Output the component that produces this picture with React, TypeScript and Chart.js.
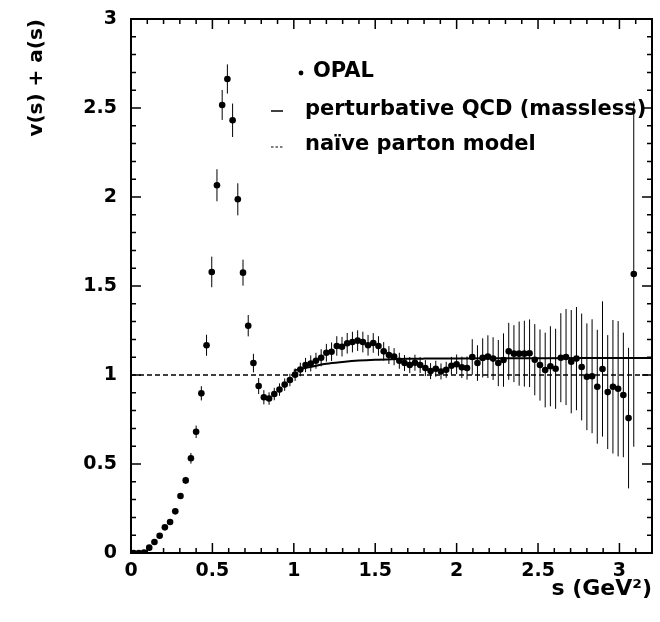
import React, { useEffect, useRef } from 'react';
import { Chart, registerables } from 'chart.js';

Chart.register(...registerables);

// ---- data ----
const S_VALUES = [
  0.016, 0.048, 0.080, 0.112, 0.144, 0.176, 0.208, 0.240, 0.272, 0.304,
  0.336, 0.368, 0.400, 0.432, 0.464, 0.496, 0.528, 0.560, 0.592, 0.624,
  0.656, 0.688, 0.720, 0.752, 0.784, 0.816, 0.848, 0.880, 0.912, 0.944,
  0.976, 1.008, 1.040, 1.072, 1.104, 1.136, 1.168, 1.200, 1.232, 1.264,
  1.296, 1.328, 1.360, 1.392, 1.424, 1.456, 1.488, 1.520, 1.552, 1.584,
  1.616, 1.648, 1.680, 1.712, 1.744, 1.776, 1.808, 1.840, 1.872, 1.904,
  1.936, 1.968, 2.000, 2.032, 2.064, 2.096, 2.128, 2.160, 2.192, 2.224,
  2.256, 2.288, 2.320, 2.352, 2.384, 2.416, 2.448, 2.480, 2.512, 2.544,
  2.576, 2.608, 2.640, 2.672, 2.704, 2.736, 2.768, 2.800, 2.832, 2.864,
  2.896, 2.928, 2.960, 2.992, 3.024, 3.056, 3.088,
];
const V_VALUES = [
  0.000, 0.000, 0.003, 0.030, 0.062, 0.097, 0.144, 0.174, 0.234, 0.320,
  0.408, 0.532, 0.681, 0.897, 1.167, 1.579, 2.066, 2.517, 2.663, 2.431,
  1.987, 1.575, 1.277, 1.067, 0.938, 0.875, 0.868, 0.893, 0.918, 0.946,
  0.972, 1.002, 1.031, 1.056, 1.065, 1.080, 1.097, 1.125, 1.131, 1.163,
  1.159, 1.178, 1.185, 1.193, 1.185, 1.167, 1.180, 1.163, 1.133, 1.112,
  1.103, 1.080, 1.067, 1.056, 1.069, 1.056, 1.039, 1.022, 1.035, 1.020,
  1.029, 1.052, 1.060, 1.043, 1.039, 1.101, 1.067, 1.096, 1.103, 1.092,
  1.067, 1.084, 1.133, 1.120, 1.120, 1.120, 1.122, 1.086, 1.056, 1.028,
  1.049, 1.035, 1.097, 1.101, 1.075, 1.092, 1.045, 0.990, 0.993, 0.934,
  1.034, 0.904, 0.934, 0.923, 0.888, 0.758, 1.567,
];
const V_ERRORS = [
  0.002, 0.002, 0.004, 0.008, 0.008, 0.010, 0.010, 0.012, 0.014, 0.016,
  0.020, 0.030, 0.035, 0.040, 0.059, 0.086, 0.090, 0.084, 0.082, 0.094,
  0.090, 0.073, 0.060, 0.052, 0.045, 0.040, 0.035, 0.035, 0.035, 0.035,
  0.035, 0.035, 0.038, 0.040, 0.045, 0.045, 0.048, 0.050, 0.052, 0.055,
  0.055, 0.058, 0.058, 0.058, 0.058, 0.058, 0.055, 0.055, 0.052, 0.050,
  0.048, 0.045, 0.045, 0.045, 0.045, 0.045, 0.045, 0.045, 0.045, 0.045,
  0.045, 0.050, 0.055, 0.060, 0.065, 0.100, 0.100, 0.110, 0.120, 0.120,
  0.130, 0.150, 0.160, 0.160, 0.180, 0.185, 0.190, 0.200, 0.200, 0.210,
  0.225, 0.225, 0.250, 0.270, 0.290, 0.290, 0.300, 0.300, 0.320, 0.320,
  0.380, 0.320, 0.375, 0.380, 0.350, 0.395, 0.970,
];

const QCD_S = [1.0, 1.05, 1.1, 1.15, 1.2, 1.3, 1.4, 1.5, 1.6, 1.7, 1.8, 2.0, 2.4, 2.8, 3.2];
const QCD_V = [1.025, 1.036, 1.045, 1.055, 1.063, 1.073, 1.081, 1.086, 1.089, 1.091, 1.092, 1.093, 1.094, 1.095, 1.095];

const NAIVE_S = [0, 3.2];
const NAIVE_V = [1, 1];

const X_TICKS = [0, 0.5, 1, 1.5, 2, 2.5, 3];
const Y_TICKS = [0, 0.5, 1, 1.5, 2, 2.5, 3];
const X_MIN = 0;
const X_MAX = 3.2;
const Y_MIN = 0;
const Y_MAX = 3;

const LEGEND_LABELS = ['OPAL', 'perturbative QCD (massless)', 'naïve parton model'];
const X_TITLE = 's (GeV²)';
const Y_TITLE = 'v(s) + a(s)';

const FAMILY = '"DejaVu Sans", "Liberation Sans", sans-serif';

const framePlugin = {
  id: 'rootFrame',
  beforeDatasetsDraw(chart: any) {
    const { ctx, chartArea } = chart;
    const xs = chart.scales.x;
    const ys = chart.scales.y;
    ctx.save();
    ctx.beginPath();
    ctx.rect(chartArea.left, chartArea.top, chartArea.right - chartArea.left, chartArea.bottom - chartArea.top);
    ctx.clip();
    ctx.strokeStyle = '#000';
    ctx.lineWidth = 1;
    for (let i = 0; i < S_VALUES.length; i++) {
      const px = xs.getPixelForValue(S_VALUES[i]);
      const y1 = ys.getPixelForValue(V_VALUES[i] - V_ERRORS[i]);
      const y2 = ys.getPixelForValue(V_VALUES[i] + V_ERRORS[i]);
      ctx.beginPath();
      ctx.moveTo(px, y1);
      ctx.lineTo(px, y2);
      ctx.stroke();
    }
    ctx.restore();
  },
  afterDatasetsDraw(chart: any) {
    const { ctx, chartArea } = chart;
    const { left, right, top, bottom } = chartArea;
    const xs = chart.scales.x;
    const ys = chart.scales.y;
    ctx.save();
    ctx.strokeStyle = '#000';
    ctx.lineWidth = 2;
    ctx.strokeRect(left, top, right - left, bottom - top);

    ctx.lineWidth = 1.5;
    const isMajor = (v: number) => Math.abs(v * 2 - Math.round(v * 2)) < 1e-6;
    // x ticks (bottom and top)
    for (let i = 0; i <= Math.round(X_MAX * 10); i++) {
      const v = i / 10;
      const px = xs.getPixelForValue(v);
      const len = isMajor(v) ? 10 : 5;
      ctx.beginPath();
      ctx.moveTo(px, bottom);
      ctx.lineTo(px, bottom - len);
      ctx.moveTo(px, top);
      ctx.lineTo(px, top + len);
      ctx.stroke();
    }
    // y ticks (left and right)
    for (let i = 0; i <= Math.round(Y_MAX * 10); i++) {
      const v = i / 10;
      const py = ys.getPixelForValue(v);
      const len = isMajor(v) ? 10 : 5;
      ctx.beginPath();
      ctx.moveTo(left, py);
      ctx.lineTo(left + len, py);
      ctx.moveTo(right, py);
      ctx.lineTo(right - len, py);
      ctx.stroke();
    }

    // legend
    ctx.fillStyle = '#000';
    ctx.font = 'bold 21px ' + FAMILY;
    ctx.textBaseline = 'alphabetic';
    ctx.textAlign = 'left';
    ctx.beginPath();
    ctx.arc(301, 73, 2.4, 0, Math.PI * 2);
    ctx.fill();
    ctx.fillText(LEGEND_LABELS[0], 313, 77);

    ctx.lineWidth = 1.5;
    ctx.beginPath();
    ctx.moveTo(271, 111);
    ctx.lineTo(283, 111);
    ctx.stroke();
    ctx.fillText(LEGEND_LABELS[1], 305, 115);

    ctx.setLineDash([2.5, 2]);
    ctx.lineWidth = 1.2;
    ctx.beginPath();
    ctx.moveTo(271, 147);
    ctx.lineTo(283, 147);
    ctx.stroke();
    ctx.setLineDash([]);
    ctx.fillText(LEGEND_LABELS[2], 305, 150);
    ctx.restore();
  },
};

export default function App() {
  const ref = useRef<HTMLCanvasElement | null>(null);

  useEffect(() => {
    const canvas = ref.current;
    if (!canvas) return;
    const chart = new Chart(canvas, {
      type: 'scatter',
      data: {
        datasets: [
          {
            label: LEGEND_LABELS[0],
            data: S_VALUES.map((s, i) => ({ x: s, y: V_VALUES[i] })),
            pointRadius: 3.3,
            pointBackgroundColor: '#000',
            pointBorderWidth: 0,
            pointBorderColor: '#000',
            showLine: false,
            clip: 0,
          },
          {
            label: LEGEND_LABELS[1],
            data: QCD_S.map((s, i) => ({ x: s, y: QCD_V[i] })),
            showLine: true,
            borderColor: '#000',
            borderWidth: 2,
            pointRadius: 0,
            cubicInterpolationMode: 'monotone',
            clip: 0,
          },
          {
            label: LEGEND_LABELS[2],
            data: NAIVE_S.map((s, i) => ({ x: s, y: NAIVE_V[i] })),
            showLine: true,
            borderColor: '#000',
            borderWidth: 1.3,
            borderDash: [5, 3],
            pointRadius: 0,
            clip: 0,
          },
        ] as any,
      },
      options: {
        animation: false,
        responsive: false,
        layout: { padding: { top: 19, right: 8, left: 0, bottom: 0 } },
        plugins: { legend: { display: false }, tooltip: { enabled: false } },
        scales: {
          x: {
            type: 'linear',
            min: X_MIN,
            max: X_MAX,
            afterBuildTicks: (sc: any) => {
              sc.ticks = X_TICKS.map((v) => ({ value: v }));
            },
            afterFit: (sc: any) => {
              sc.height = 69;
            },
            grid: { display: false, drawTicks: false },
            border: { display: false },
            ticks: {
              padding: 7,
              color: '#000',
              font: { family: FAMILY, size: 19, weight: 'bold' },
              maxRotation: 0,
              autoSkip: false,
              callback: (v: any) => String(v),
            },
            title: {
              display: true,
              text: X_TITLE,
              align: 'end',
              color: '#000',
              font: { family: FAMILY, size: 22, weight: 'bold' },
              padding: { top: 0, bottom: 20 },
            },
          },
          y: {
            type: 'linear',
            min: Y_MIN,
            max: Y_MAX,
            afterBuildTicks: (sc: any) => {
              sc.ticks = Y_TICKS.map((v) => ({ value: v }));
            },
            afterFit: (sc: any) => {
              sc.width = 131;
            },
            grid: { display: false, drawTicks: false },
            border: { display: false },
            ticks: {
              padding: 14,
              color: '#000',
              font: { family: FAMILY, size: 19, weight: 'bold', lineHeight: 0.5 },
              autoSkip: false,
              callback: (v: any) => String(v),
            },
            title: {
              display: true,
              text: Y_TITLE,
              align: 'end',
              color: '#000',
              font: { family: FAMILY, size: 20, weight: 'bold' },
              padding: { top: 25, bottom: 0 },
            },
          },
        },
      } as any,
      plugins: [framePlugin],
    });
    return () => chart.destroy();
  }, []);

  return (
    <div style={{ position: 'absolute', left: 0, top: 0, width: 660, height: 622, background: '#fff' }}>
      <canvas ref={ref} width={660} height={622} style={{ display: 'block', width: 660, height: 622 }} />
    </div>
  );
}
